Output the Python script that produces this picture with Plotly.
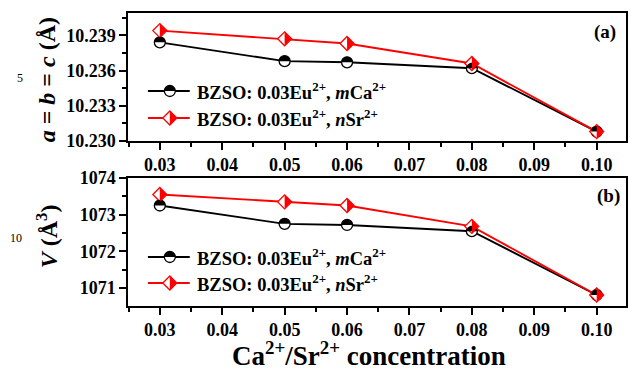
import plotly.graph_objects as go

# ---------------- data ----------------
conc = [0.03, 0.05, 0.06, 0.08, 0.10]
a_ca = [10.2384, 10.2368, 10.2367, 10.2362, 10.2308]
a_sr = [10.2394, 10.2387, 10.2383, 10.2366, 10.2308]
v_ca = [1073.25, 1072.75, 1072.72, 1072.55, 1070.81]
v_sr = [1073.55, 1073.35, 1073.25, 1072.68, 1070.81]

x_ticks = [0.03, 0.04, 0.05, 0.06, 0.07, 0.08, 0.09, 0.10]
x_ticklabels = ["0.03", "0.04", "0.05", "0.06", "0.07", "0.08", "0.09", "0.10"]
a_ticks = [10.230, 10.233, 10.236, 10.239]
a_ticklabels = ["10.230", "10.233", "10.236", "10.239"]
v_ticks = [1071, 1072, 1073, 1074]
v_ticklabels = ["1071", "1072", "1073", "1074"]

label_ca = "BZSO: 0.03Eu<sup>2+</sup>, <i>m</i>Ca<sup>2+</sup>"
label_sr = "BZSO: 0.03Eu<sup>2+</sup>, <i>n</i>Sr<sup>2+</sup>"

# ---------------- style ----------------
FONT = "'Liberation Serif', 'Times New Roman', Times, 'DejaVu Serif', serif"
BLACK = "#000000"
RED = "#ff0000"
W, H = 629, 371
ML, MR, MT, MB = 128, 1, 13, 65
PW, PH = W - ML - MR, H - MT - MB
CIRC_R = 5.5
DIA_R = 7.0
K = 0.5523


def half_circle_path(r):
    # top half of a circle (pixel units, y up)
    k = K * r
    return (f"M{-r},0 C{-r},{k} {-k},{r} 0,{r} "
            f"C{k},{r} {r},{k} {r},0 Z")


def full_circle_path(r):
    k = K * r
    return (f"M{-r},0 C{-r},{k} {-k},{r} 0,{r} C{k},{r} {r},{k} {r},0 "
            f"C{r},{-k} {k},{-r} 0,{-r} C{-k},{-r} {-r},{-k} {-r},0 Z")


def half_diamond_path(r):
    return f"M0,{r} L{r},0 L0,{-r} Z"


def full_diamond_path(r):
    return f"M0,{r} L{r},0 L0,{-r} L{-r},0 Z"


fig = go.Figure()
shapes = []

panels = [
    ("x", "y", a_ca, a_sr),
    ("x2", "y2", v_ca, v_sr),
]
for xr, yr, ca, sr in panels:
    fig.add_trace(go.Scatter(
        x=conc, y=ca, mode="lines+markers", xaxis=xr, yaxis=yr,
        line=dict(color=BLACK, width=1.9),
        marker=dict(symbol="circle", size=2 * CIRC_R, color="white",
                    line=dict(color=BLACK, width=1.3)),
        showlegend=False, cliponaxis=False))
    fig.add_trace(go.Scatter(
        x=conc, y=sr, mode="lines+markers", xaxis=xr, yaxis=yr,
        line=dict(color=RED, width=1.9),
        marker=dict(symbol="diamond", size=DIA_R / 0.65, color="white",
                    line=dict(color=RED, width=1.3)),
        showlegend=False, cliponaxis=False))
    for xv, yv in zip(conc, ca):
        shapes.append(dict(type="path", xref=xr, yref=yr, xsizemode="pixel",
                           ysizemode="pixel", xanchor=xv, yanchor=yv,
                           path=half_circle_path(CIRC_R), fillcolor=BLACK,
                           line=dict(width=0)))
    for xv, yv in zip(conc, sr):
        shapes.append(dict(type="path", xref=xr, yref=yr, xsizemode="pixel",
                           ysizemode="pixel", xanchor=xv, yanchor=yv,
                           path=half_diamond_path(DIA_R), fillcolor=RED,
                           line=dict(width=0)))


def px2paper_x(px):
    return (px - ML) / PW


def px2paper_y(py):
    return (MT + PH - py) / PH


annotations = []
legend_rows = [(91, 118), (257, 283)]
for row_ca, row_sr in legend_rows:
    for py, col, label, kind in [(row_ca, BLACK, label_ca, "c"),
                                 (row_sr, RED, label_sr, "d")]:
        yp = px2paper_y(py)
        shapes.append(dict(type="line", xref="paper", yref="paper",
                           x0=px2paper_x(148), x1=px2paper_x(190), y0=yp, y1=yp,
                           line=dict(color=col, width=1.9)))
        xa = px2paper_x(170)
        if kind == "c":
            full = full_circle_path(CIRC_R)
            half = half_circle_path(CIRC_R)
        else:
            full = full_diamond_path(DIA_R)
            half = half_diamond_path(DIA_R)
        shapes.append(dict(type="path", xref="paper", yref="paper",
                           xsizemode="pixel", ysizemode="pixel", xanchor=xa,
                           yanchor=yp, path=full, fillcolor="white",
                           line=dict(color=col, width=1.3)))
        shapes.append(dict(type="path", xref="paper", yref="paper",
                           xsizemode="pixel", ysizemode="pixel", xanchor=xa,
                           yanchor=yp, path=half, fillcolor=col,
                           line=dict(width=0)))
        annotations.append(dict(text=f"<b>{label}</b>", xref="paper", yref="paper",
                                x=px2paper_x(195), y=yp, xanchor="left",
                                yanchor="middle", showarrow=False,
                                font=dict(family=FONT, size=18.5, color=BLACK)))

# panel labels
annotations.append(dict(text="<b>(a)</b>", xref="paper", yref="paper",
                        x=px2paper_x(620), y=px2paper_y(32), xanchor="right",
                        yanchor="middle", showarrow=False,
                        font=dict(family=FONT, size=19, color=BLACK)))
annotations.append(dict(text="<b>(b)</b>", xref="paper", yref="paper",
                        x=px2paper_x(624), y=px2paper_y(196), xanchor="right",
                        yanchor="middle", showarrow=False,
                        font=dict(family=FONT, size=19, color=BLACK)))
# line numbers of manuscript
annotations.append(dict(text="5", xref="paper", yref="paper",
                        x=px2paper_x(20), y=px2paper_y(78), xanchor="center",
                        yanchor="middle", showarrow=False,
                        font=dict(family=FONT, size=12, color=BLACK)))
annotations.append(dict(text="10", xref="paper", yref="paper",
                        x=px2paper_x(16), y=px2paper_y(238), xanchor="center",
                        yanchor="middle", showarrow=False,
                        font=dict(family=FONT, size=12, color=BLACK)))
# y titles
annotations.append(dict(text="<b><i>a</i> = <i>b</i> = <i>c</i> (Å)</b>",
                        xref="paper", yref="paper", x=px2paper_x(47),
                        y=px2paper_y(80), xanchor="center", yanchor="middle",
                        textangle=-90, showarrow=False,
                        font=dict(family=FONT, size=24, color=BLACK)))
annotations.append(dict(text="<b><i>V</i> (Å<sup>3</sup>)</b>",
                        xref="paper", yref="paper", x=px2paper_x(47),
                        y=px2paper_y(236), xanchor="center", yanchor="middle",
                        textangle=-90, showarrow=False,
                        font=dict(family=FONT, size=24, color=BLACK)))
# x title
annotations.append(dict(text="<b>Ca<sup>2+</sup>/Sr<sup>2+</sup> concentration</b>",
                        xref="paper", yref="paper", x=px2paper_x(370),
                        y=px2paper_y(354), xanchor="center", yanchor="middle",
                        showarrow=False,
                        font=dict(family=FONT, size=27, color=BLACK)))

top_dom = [px2paper_y(141), 1.0]
bot_dom = [0.0, px2paper_y(178)]

xcommon = dict(range=[0.0249, 0.1047], tickvals=x_ticks, ticktext=x_ticklabels,
               ticks="outside", ticklen=7, tickwidth=1.5, tickcolor=BLACK,
               showline=True, linecolor=BLACK, linewidth=1.5, mirror=True,
               showgrid=False, zeroline=False,
               tickfont=dict(family=FONT, size=18, color=BLACK, weight="bold"),
               minor=dict(dtick=0.005, tick0=0.025, ticks="outside", ticklen=4,
                          tickwidth=1.5, tickcolor=BLACK, showgrid=False))
ycommon = dict(ticks="outside", ticklen=7, tickwidth=1.5, tickcolor=BLACK,
               showline=True, linecolor=BLACK, linewidth=1.5, mirror=True,
               showgrid=False, zeroline=False,
               tickfont=dict(family=FONT, size=18, color=BLACK, weight="bold"))

fig.update_layout(
    width=W, height=H, margin=dict(l=ML, r=MR, t=MT, b=MB),
    paper_bgcolor="white", plot_bgcolor="white",
    showlegend=False,
    xaxis=dict(domain=[0, 1], anchor="y", **xcommon),
    yaxis=dict(domain=top_dom, anchor="x", range=[10.2300, 10.2409],
               tickvals=a_ticks, ticktext=a_ticklabels,
               minor=dict(dtick=0.0015, tick0=10.2300, ticks="outside", ticklen=4,
                          tickwidth=1.5, tickcolor=BLACK, showgrid=False),
               **ycommon),
    xaxis2=dict(domain=[0, 1], anchor="y2", **xcommon),
    yaxis2=dict(domain=bot_dom, anchor="x2", range=[1070.51, 1074.0],
                tickvals=v_ticks, ticktext=v_ticklabels,
                minor=dict(dtick=0.5, tick0=1070.5, ticks="outside", ticklen=4,
                           tickwidth=1.5, tickcolor=BLACK, showgrid=False),
                **ycommon),
    shapes=shapes,
    annotations=annotations,
    font=dict(family=FONT, color=BLACK),
)

fig.write_html("out.html")
